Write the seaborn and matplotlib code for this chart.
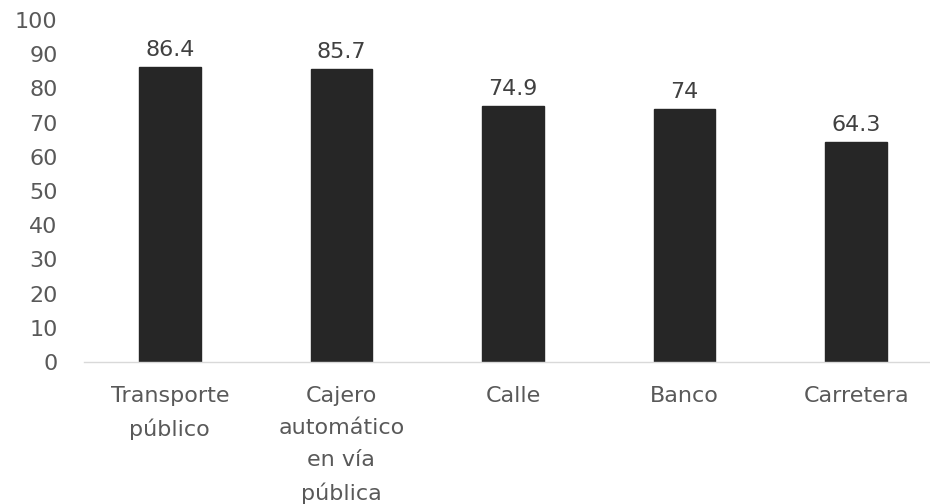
import numpy as np
import pandas as pd
import matplotlib
matplotlib.use('Agg')
import matplotlib.pyplot as plt
import seaborn as sns

categories = ['Transporte\npúblico', 'Cajero\nautomático\nen vía\npública', 'Calle', 'Banco', 'Carretera']
values = [86.4, 85.7, 74.9, 74, 64.3]
value_labels = ['86.4', '85.7', '74.9', '74', '64.3']
yticks = list(range(0, 101, 10))

sns.set_style('white')
plt.rcParams['font.family'] = ['DejaVu Sans']

df = pd.DataFrame({'lugar': categories, 'pct': values})

fig = plt.figure(figsize=(9.3, 5.04), dpi=100)
ax = fig.add_axes([84 / 930, 142 / 504, 846 / 930, 342 / 504])
sns.barplot(data=df, x='lugar', y='pct', color='#262626', width=0.36,
            saturation=1, edgecolor='#262626', ax=ax)

for i, (v, lab) in enumerate(zip(values, value_labels)):
    ax.text(i, v + 2, lab, ha='center', va='bottom', fontsize=16, color='#404040')

ax.set_ylim(0, 100)
ax.set_xlim(-0.5, 4.43)
ax.set_yticks(yticks)
ax.set_xlabel('')
ax.set_ylabel('')
ax.tick_params(axis='y', length=0, labelsize=16, labelcolor='#595959', pad=19)
ax.tick_params(axis='x', length=0, labelsize=16, labelcolor='#595959', pad=17)
for lbl in ax.get_xticklabels():
    lbl.set_linespacing(1.75)
for s in ['top', 'right', 'left']:
    ax.spines[s].set_visible(False)
ax.spines['bottom'].set_color('#d9d9d9')
ax.spines['bottom'].set_linewidth(1)

fig.savefig('out.png', dpi=100)
